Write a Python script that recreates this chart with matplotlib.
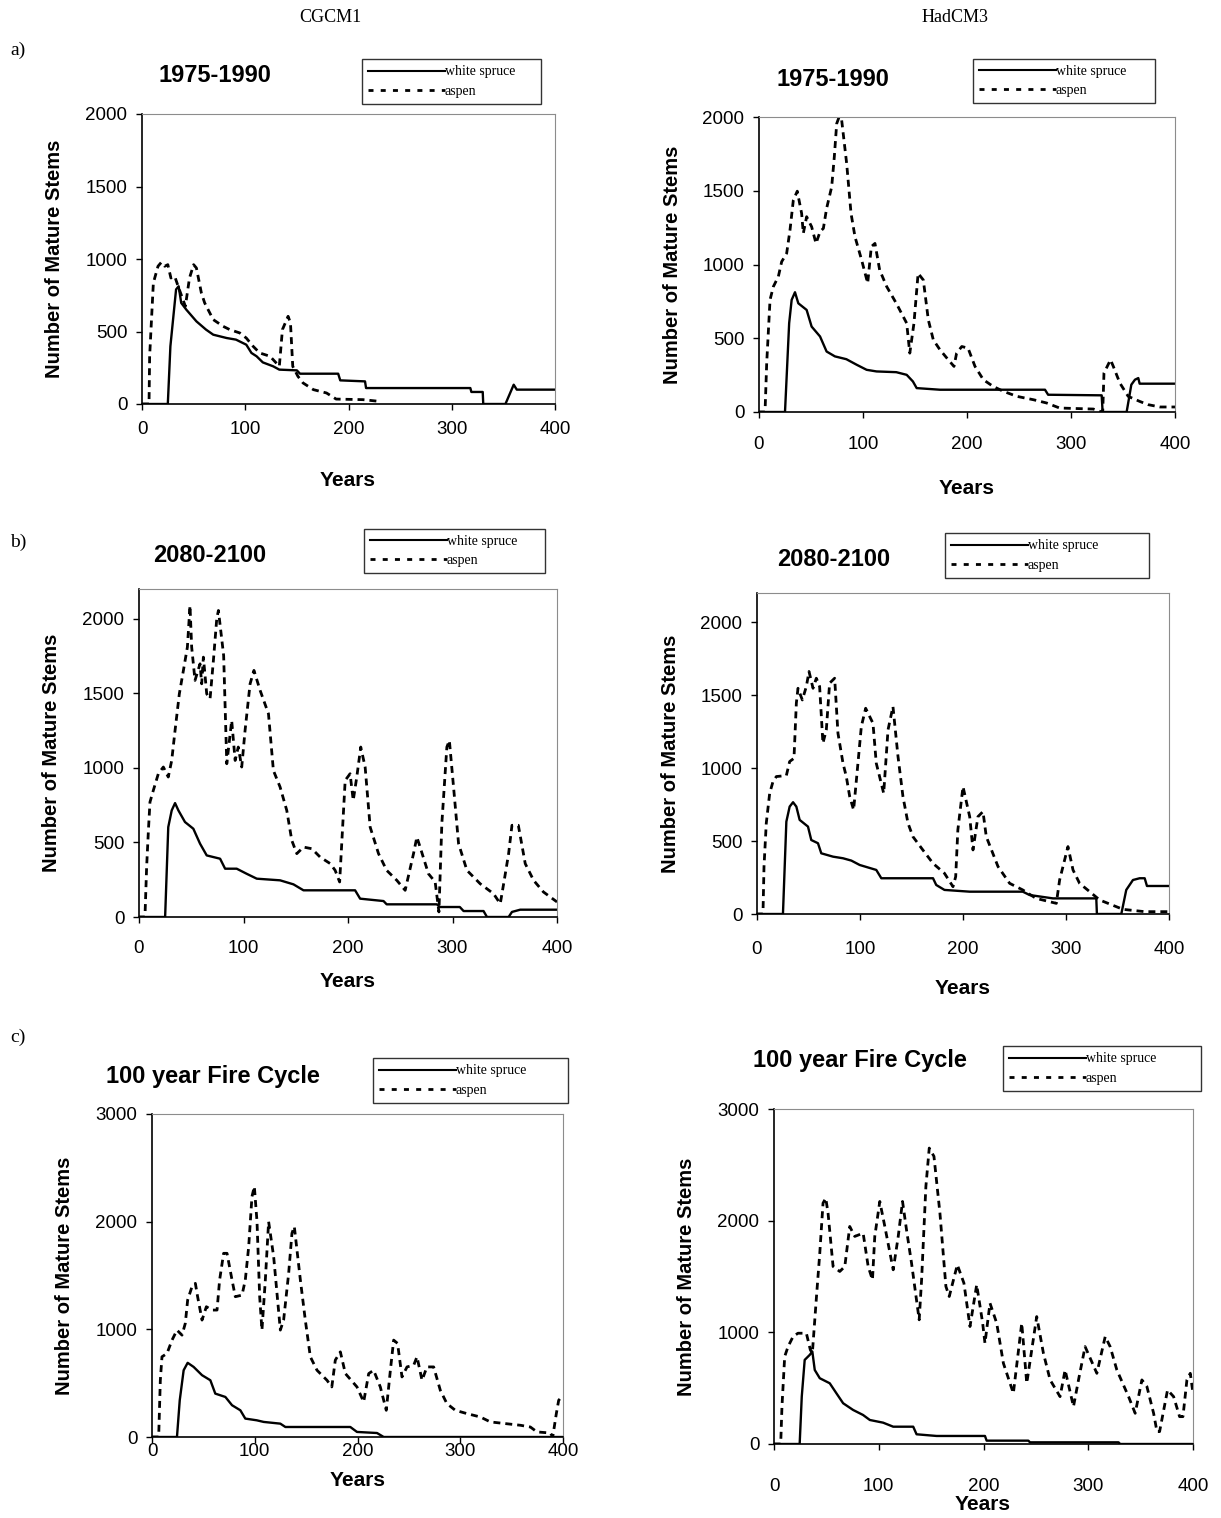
import matplotlib.pyplot as plt
from matplotlib.lines import Line2D

plt.rcParams['font.family'] = ['Liberation Sans', 'DejaVu Sans']

W, H = 1221, 1518

# --- stand data: years and number of mature stems -------------------------
# a) 1975-1990 climate, CGCM1
a_cgcm_spruce_yr = [0, 25, 27.5, 33, 35.5, 38, 43, 52.7, 62, 69, 82, 91, 101, 106, 111, 117, 127, 133,
                    150, 153, 190, 192, 216, 217, 318, 319, 330, 330.5, 352, 360, 363, 400]
a_cgcm_spruce_n = [0, 0, 398, 790, 812, 697, 650, 570, 513, 478, 455, 444, 409, 352, 329, 287, 260, 237,
                   232, 209, 209, 163, 156, 110, 110, 83, 83, 0, 0, 133, 99, 99]
a_cgcm_aspen_yr = [0, 6.8, 7.4, 11, 15.5, 18.7, 22, 25, 28, 31.7, 35, 42, 46, 50, 52.7, 57.5, 60.7, 64,
                   69, 78.5, 85, 94.7, 101, 107.6, 114, 124, 127, 133, 136, 141.5, 143.8, 146, 151,
                   156, 166, 178.7, 188, 214, 230]
a_cgcm_aspen_n = [0, 0, 329, 835, 950, 977, 950, 961, 869, 880, 812, 674, 869, 961, 938, 766, 697, 651,
                  582, 536, 513, 490, 455, 398, 352, 329, 306, 260, 513, 605, 559, 260, 191,
                  145, 99, 76, 34, 30, 18]

# a) 1975-1990 climate, HadCM3
a_had_spruce_yr = [0, 25, 29, 31.4, 34.6, 37.8, 45.8, 50.6, 58.7, 65, 73, 84, 94, 103.5, 113, 132, 142,
                   148, 151.6, 174, 275, 278, 329.5, 330.4, 353.5, 358, 361.5, 364.7, 366, 400]
a_had_spruce_n = [0, 0, 602, 760, 812, 737, 692, 579, 512, 410, 377, 358, 320, 286, 275, 270, 252,
                  207, 162, 151, 151, 117, 113, 0, 0, 185, 219, 230, 192, 192]
a_had_aspen_yr = [0, 5.8, 7.4, 10.6, 13.8, 18.6, 21.8, 26.6, 29.8, 33, 36.8, 41, 42.6, 45.8, 50.6, 54.8,
                  58.7, 61.9, 65, 69.9, 72.4, 74.7, 77, 79.5, 84.3, 88.5, 92.3, 98.7, 104.5, 108,
                  111.5, 116, 122.8, 132, 142, 145, 149, 153, 158, 162.8, 167.6, 174, 182, 187.5,
                  190, 195, 201, 207.7, 215.7, 225, 235, 248, 264, 276.6, 289, 321.5, 329.5, 330.5,
                  331.7, 338, 340.7, 347, 355, 366, 374, 385.6, 400]
a_had_aspen_n = [0, 0, 331, 760, 850, 918, 1019, 1076, 1233, 1436, 1497, 1346, 1211, 1324, 1256, 1143,
                 1222, 1245, 1380, 1527, 1729, 1955, 2000, 1978, 1684, 1346, 1188, 1030, 873, 1121,
                 1143, 963, 850, 737, 602, 399, 602, 940, 895, 625, 489, 422, 354, 309,
                 399, 444, 433, 309, 219, 174, 140, 106, 83, 61, 27, 20, 0, 0,
                 264, 354, 309, 196, 106, 72, 50, 34, 34]

# b) 2080-2100 climate, CGCM1
b_cgcm_spruce_yr = [0, 25, 28, 31.3, 34.5, 37.7, 44, 52, 58.4, 64.8, 77.6, 82.4, 93.5, 103, 112.7, 135,
                    147.8, 157.4, 206.8, 211.6, 234, 237, 285, 288, 307, 310.6, 329.7, 333, 353.7,
                    356.9, 364.8, 400]
b_cgcm_spruce_n = [0, 0, 603, 715, 764, 715, 637, 592, 492, 413, 391, 324, 324, 290, 257, 246,
                   219, 179, 179, 123, 107, 85, 85, 67, 67, 40, 40, 0, 0,
                   34, 49, 49]
b_cgcm_aspen_yr = [0, 5.7, 7.3, 9, 10.5, 13.7, 18.5, 23.3, 28, 31.3, 34.5, 38.6, 42.5, 46.3, 48.8, 50.4,
                   53.6, 58.4, 60, 61.6, 64.8, 68, 71.2, 74.4, 76, 81, 84, 88.7, 92, 95, 98.3, 101.5,
                   106.3, 110, 115.9, 123.9, 128.6, 135, 141.4, 146.2, 151, 157.4, 165.4, 173.3, 183,
                   187.7, 192, 197.3, 202, 205, 208.4, 212.2, 216.4, 221.2, 229.2, 237, 246.7, 254.7,
                   262.7, 265.9, 269, 277, 283.4, 287, 289.8, 294.6, 297, 301, 305.8, 313.8, 326.5,
                   339.3, 345.7, 349.5, 353.7, 356.9, 363, 369.6, 377.6, 387, 400]
b_cgcm_aspen_n = [0, 0, 335, 581, 771, 849, 961, 1006, 939, 1050, 1251, 1497, 1654, 1810, 2089, 1810,
                  1587, 1698, 1564, 1743, 1497, 1464, 1721, 2000, 2056, 1754, 1028, 1318, 1050, 1140,
                  1006, 1251, 1564, 1654, 1520, 1363, 983, 872, 715, 514, 425, 469, 458, 402, 358,
                  313, 235, 916, 961, 782, 939, 1140, 1006, 603, 425, 313, 246, 179,
                  425, 536, 469, 290, 235, 34, 626, 1140, 1184, 872, 492, 313, 223,
                  156, 89, 246, 425, 615, 615, 358, 246, 168, 101]

# b) 2080-2100 climate, HadCM3
b_had_spruce_yr = [0, 25.2, 28.5, 31.7, 35, 38.2, 41.4, 49.5, 52.7, 59.2, 62.4, 73.8, 83.5, 91.6, 99.7,
                   115.8, 120.7, 170.9, 174, 182, 206.5, 258, 264.7, 287.4, 329.4, 330, 353.7, 358.5,
                   365, 371.5, 376.4, 378.6, 400]
b_had_spruce_n = [0, 0, 633, 736, 766, 736, 645, 599, 507, 485, 416, 393, 382, 366, 336,
                  302, 245, 245, 199, 165, 153, 153, 130, 107, 107, 0, 0, 165,
                  233, 245, 245, 192, 192]
b_had_aspen_yr = [0, 5.8, 6.8, 9, 12.3, 15.5, 18.8, 28.5, 31.7, 35.9, 38.2, 39.8, 44, 47.9, 50.5, 54.4,
                  57.6, 60.8, 64, 67.3, 70.5, 75.4, 78.6, 83.5, 86.7, 90, 93.8, 98, 101.3, 105.5,
                  112.6, 115.8, 119, 123, 127.2, 132, 136.9, 141.7, 146.6, 151.4, 161, 170.9, 182,
                  190.3, 192.9, 195, 200, 206.5, 209.7, 214.5, 219.4, 222.6, 234, 245.3, 258, 271,
                  290.6, 293.8, 301.9, 306.8, 313.2, 323, 332.7, 348.9, 355.3, 376.4, 400]
b_had_aspen_n = [0, 0, 325, 622, 827, 907, 942, 949, 1045, 1067, 1445, 1547, 1467, 1559, 1662, 1547,
                 1616, 1559, 1170, 1262, 1582, 1616, 1239, 1033, 942, 805, 713, 1033, 1285, 1410,
                 1307, 1033, 942, 827, 1262, 1422, 1079, 805, 622, 530, 439, 347, 279,
                 187, 256, 576, 873, 667, 439, 667, 702, 530, 325, 210, 165, 107,
                 73, 233, 462, 302, 210, 153, 96, 50, 32, 16, 16]

# c) 100 year fire cycle, CGCM1
c_cgcm_spruce_yr = [0, 24.3, 27, 30.8, 34.7, 40.5, 48.7, 56.8, 61.6, 71.4, 77.9, 86, 90.8, 102, 108.7,
                    124.9, 129.8, 193, 199.5, 219, 225.5, 400]
c_cgcm_spruce_n = [0, 0, 341, 620, 689, 651, 574, 527, 403, 372, 295, 248, 171, 155, 140,
                   124, 93, 93, 47, 37, 0, 0]
c_cgcm_aspen_yr = [0, 6.5, 8.1, 9.7, 14.6, 19.5, 24.3, 29.2, 32.4, 34.7, 38.9, 42.2, 44.4, 48.7, 52.9,
                   58.4, 63.3, 65.8, 69.7, 73, 77.9, 81.1, 87.6, 90.8, 94.1, 97.3, 99.6, 102.2, 104.8,
                   107, 110.3, 113.5, 118.4, 124.9, 128.1, 133, 136.2, 138.5, 144.4, 149.2, 154.1,
                   160.6, 170.3, 175, 178.4, 183.3, 188.2, 199.5, 206, 210.9, 215.7, 222.2, 228, 232,
                   235.2, 239, 243.3, 248.2, 254.7, 257.9, 262.8, 267.6, 274.1, 280.6, 287, 295.2,
                   306.6, 319.5, 329.3, 358.5, 368.2, 374.7, 387.7, 390, 393.5, 395.8, 400]
c_cgcm_aspen_n = [0, 0, 527, 745, 776, 900, 993, 946, 1055, 1272, 1396, 1427, 1303, 1086, 1210,
                  1179, 1179, 1458, 1706, 1706, 1458, 1303, 1318, 1458, 1768, 2234, 2327, 2000, 1303,
                  993, 1458, 2000, 1675, 993, 1086, 1520, 1892, 1955, 1458, 1086, 745,
                  620, 527, 465, 714, 791, 589, 465, 326, 589, 620, 465, 248, 620,
                  900, 869, 558, 651, 667, 745, 527, 651, 651, 434, 310, 248,
                  217, 186, 140, 109, 93, 47, 37, 0, 217, 341, 388]

# c) 100 year fire cycle, HadCM3
c_had_spruce_yr = [0, 24.5, 26.5, 29.3, 34.1, 36.6, 38.9, 43.7, 53.2, 59.6, 66, 75.5, 85, 91.5, 104.2,
                   113.8, 132.9, 136.1, 155.2, 201.4, 203, 242.8, 244.4, 328.9, 330.5, 400]
c_had_spruce_n = [0, 0, 424, 753, 798, 828, 663, 589, 544, 454, 365, 305, 260, 215, 191,
                  155, 155, 87, 72, 72, 30, 30, 15, 15, 0, 0]
c_had_aspen_yr = [0, 6.4, 7.6, 10.2, 13.4, 18.2, 22.9, 30.9, 34.7, 36.6, 40.8, 43.7, 46.8, 49.4, 51.6,
                  56.4, 62.8, 67.6, 72.3, 77.1, 85.1, 89.9, 94, 96.2, 101, 105.8, 113.8, 118.6,
                  122.7, 126.5, 131.3, 138.6, 140.9, 145, 148.2, 152.7, 158.4, 164.1, 167.3, 175,
                  181.3, 187.1, 193.5, 199.2, 201.4, 206.2, 212.6, 219, 228.5, 236.5, 241.3, 250.8,
                  257.2, 263.6, 273.1, 277.9, 285.9, 290.7, 297, 308.2, 316.2, 320.9, 327.3, 338.5,
                  344.8, 351.2, 356, 362.4, 365.6, 368.1, 375.7, 381.5, 387.2, 390.4, 394.2, 397.4,
                  400]
c_had_aspen_n = [0, 0, 335, 783, 872, 962, 992, 992, 843, 813, 1351, 1709, 2157, 2202, 2068,
                 1590, 1545, 1590, 1948, 1859, 1888, 1590, 1470, 1859, 2172, 1948, 1560, 1859,
                 2172, 1918, 1620, 1112, 1470, 2307, 2650, 2576, 2068, 1411, 1321, 1605,
                 1441, 1052, 1426, 1082, 902, 1261, 1082, 723, 454, 1082, 544, 1141,
                 813, 574, 424, 663, 335, 574, 872, 633, 962, 872, 663, 424,
                 275, 574, 514, 275, 111, 111, 484, 424, 245, 245, 574, 633,
                 454]

col_titles = ['CGCM1', 'HadCM3']
row_labels = ['a)', 'b)', 'c)']
row_titles = ['1975-1990', '2080-2100', '100 year Fire Cycle']
y_limits = [2000, 2200, 3000]
y_steps = [500, 500, 1000]
x_ticks = [0, 100, 200, 300, 400]

panels = [
    [(a_cgcm_spruce_yr, a_cgcm_spruce_n, a_cgcm_aspen_yr, a_cgcm_aspen_n),
     (a_had_spruce_yr, a_had_spruce_n, a_had_aspen_yr, a_had_aspen_n)],
    [(b_cgcm_spruce_yr, b_cgcm_spruce_n, b_cgcm_aspen_yr, b_cgcm_aspen_n),
     (b_had_spruce_yr, b_had_spruce_n, b_had_aspen_yr, b_had_aspen_n)],
    [(c_cgcm_spruce_yr, c_cgcm_spruce_n, c_cgcm_aspen_yr, c_cgcm_aspen_n),
     (c_had_spruce_yr, c_had_spruce_n, c_had_aspen_yr, c_had_aspen_n)],
]

# --- layout in pixels (left, top, right, bottom) ----------------------------
axes_px = [[(142, 114, 555, 404), (759, 117, 1175, 412)],
           [(139, 589, 557, 917), (757, 593, 1169, 914)],
           [(152, 1114, 563, 1437), (774, 1109, 1193, 1444)]]
title_px = [[(215, 75), (833, 80)],
            [(210, 556), (834, 560)],
            [(213, 1076), (860, 1060)]]
xlabel_px = [[(348, 480), (967, 488)],
             [(348, 981), (963, 989)],
             [(358, 1480), (983, 1505)]]
xtick_pad = [[8, 13], [12, 15], [0, 20]]
legend_px = [[(362, 59, 541, 104), (973, 59, 1155, 103)],
             [(364, 527, 545, 575), (945, 532, 1149, 579)],
             [(373, 1058, 568, 1103), (1003, 1045, 1201, 1092)]]

fig = plt.figure(figsize=(W / 100, H / 100), dpi=100)


def fx(x):
    return x / W


def fy(y):
    return 1 - y / H


serif = ['Liberation Serif', 'DejaVu Serif']
fig.text(fx(330), fy(18), col_titles[0], family=serif, fontsize=13, ha='center', va='center')
fig.text(fx(955), fy(18), col_titles[1], family=serif, fontsize=13, ha='center', va='center')
for lab, y in zip(row_labels, [50, 542, 1037]):
    fig.text(fx(10), fy(y), lab, family=serif, fontsize=14, ha='left', va='center')

for r in range(3):
    for c in range(2):
        l, t, rt, b = axes_px[r][c]
        ax = fig.add_axes([fx(l), fy(b), (rt - l) / W, (b - t) / H])
        sp_x, sp_y, as_x, as_y = panels[r][c]
        ax.plot(sp_x, sp_y, color='black', lw=1.7, label='white spruce')
        ax.plot(as_x, as_y, color='black', lw=2.0, linestyle=(0, (2.5, 1.8)),
                label='aspen')

        ax.set_xlim(0, 400)
        ax.set_ylim(0, y_limits[r])
        ax.set_xticks(x_ticks)
        ax.set_yticks(range(0, y_limits[r] // y_steps[r] * y_steps[r] + 1, y_steps[r]))
        ax.tick_params(labelsize=13.5, length=4.5, width=1, color='black')
        ax.tick_params(axis='y', pad=6)
        ax.tick_params(axis='x', pad=xtick_pad[r][c])
        for side in ['top', 'right']:
            ax.spines[side].set_color('#8c8c8c')
        for side in ['left', 'bottom']:
            ax.spines[side].set_color('black')
            ax.spines[side].set_linewidth(1.2)

        tx, ty = title_px[r][c]
        fig.text(fx(tx), fy(ty), row_titles[r], fontsize=17, fontweight='bold',
                 ha='center', va='center')
        fig.text(fx(l - 87), fy((t + b) / 2), 'Number of Mature Stems', fontsize=14.5,
                 fontweight='bold', rotation=90, ha='center', va='center')
        xx, xy = xlabel_px[r][c]
        fig.text(fx(xx), fy(xy), 'Years', fontsize=15, fontweight='bold',
                 ha='center', va='center')

        # legend box, placed in figure pixels
        ll, lt, lr, lb = legend_px[r][c]
        handles = [Line2D([], [], color='black', lw=1.5),
                   Line2D([], [], color='black', lw=2.0, linestyle=(0, (1.8, 2.6)))]
        leg = ax.legend(handles, ['white spruce', 'aspen'], loc='center',
                        bbox_to_anchor=(fx(ll), fy(lb), (lr - ll) / W, (lb - lt) / H),
                        bbox_transform=fig.transFigure, mode='expand',
                        prop={'family': serif, 'size': 10}, frameon=True, fancybox=False,
                        borderaxespad=0, borderpad=0.45, handlelength=5.5,
                        handletextpad=0.0, labelspacing=0.45)
        leg.get_frame().set_edgecolor('black')
        leg.get_frame().set_linewidth(1.0)

fig.savefig('out.png', dpi=100)
